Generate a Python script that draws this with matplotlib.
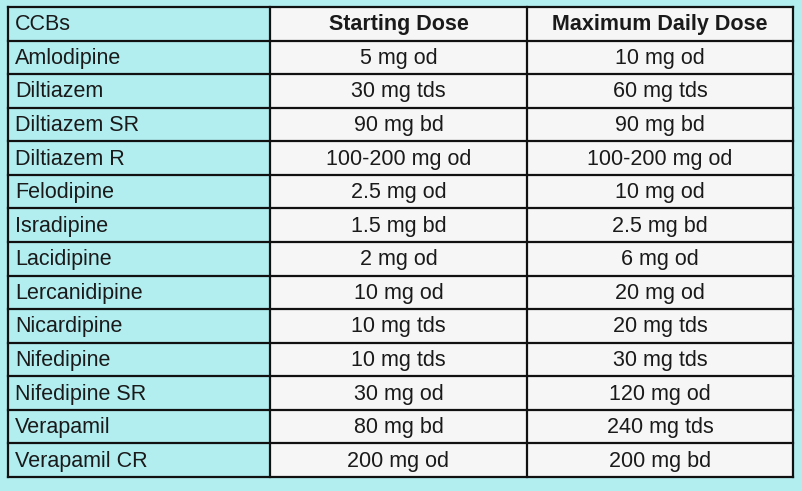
import matplotlib
matplotlib.use("Agg")
import matplotlib.pyplot as plt
from matplotlib.patches import Rectangle

headers = ["CCBs", "Starting Dose", "Maximum Daily Dose"]
drugs = ["Amlodipine", "Diltiazem", "Diltiazem SR", "Diltiazem R", "Felodipine", "Isradipine",
         "Lacidipine", "Lercanidipine", "Nicardipine", "Nifedipine", "Nifedipine SR", "Verapamil", "Verapamil CR"]
starting = ["5 mg od", "30 mg tds", "90 mg bd", "100-200 mg od", "2.5 mg od", "1.5 mg bd", "2 mg od",
            "10 mg od", "10 mg tds", "10 mg tds", "30 mg od", "80 mg bd", "200 mg od"]
maximum = ["10 mg od", "60 mg tds", "90 mg bd", "100-200 mg od", "10 mg od", "2.5 mg bd", "6 mg od",
           "20 mg od", "20 mg tds", "30 mg tds", "120 mg od", "240 mg tds", "200 mg bd"]

W, H = 803, 491
fig = plt.figure(figsize=(W/100, H/100), dpi=100)
fig.patch.set_facecolor("#b2eef0")
ax = fig.add_axes([0, 0, 1, 1])
ax.set_xlim(0, W); ax.set_ylim(H, 0); ax.axis("off")

x0, x1, x2, x3 = 8, 270, 527, 793
y0, y1 = 7, 477
nrows = len(drugs) + 1
rh = (y1 - y0) / nrows
cyan = "#b2eef0"
light = "#f6f6f6"
font = "Liberation Sans"
rows = [headers] + [[d, s, m] for d, s, m in zip(drugs, starting, maximum)]
for i, row in enumerate(rows):
    top = y0 + i * rh
    ax.add_patch(Rectangle((x0, top), x1 - x0, rh, facecolor=cyan, edgecolor="none"))
    ax.add_patch(Rectangle((x1, top), x3 - x1, rh, facecolor=light, edgecolor="none"))
    cy = top + rh / 2 + 1
    w = "semibold" if i == 0 else "normal"
    ax.text(x0 + 7, cy, row[0], fontsize=15.5, fontfamily=font, va="center", ha="left",
            fontweight="normal", color="#1a1a1a")
    ax.text((x1 + x2) / 2, cy, row[1], fontsize=15.5, fontfamily=font, va="center", ha="center",
            fontweight=w, color="#1a1a1a")
    ax.text((x2 + x3) / 2, cy, row[2], fontsize=15.5, fontfamily=font, va="center", ha="center",
            fontweight=w, color="#1a1a1a")
for i in range(nrows + 1):
    y = y0 + i * rh
    ax.plot([x0, x3], [y, y], color="#111111", lw=1.6, solid_capstyle="projecting")
for x in (x0, x1, x2, x3):
    ax.plot([x, x], [y0, y1], color="#111111", lw=1.6, solid_capstyle="projecting")

fig.savefig("out.png", dpi=100, facecolor=fig.get_facecolor())
